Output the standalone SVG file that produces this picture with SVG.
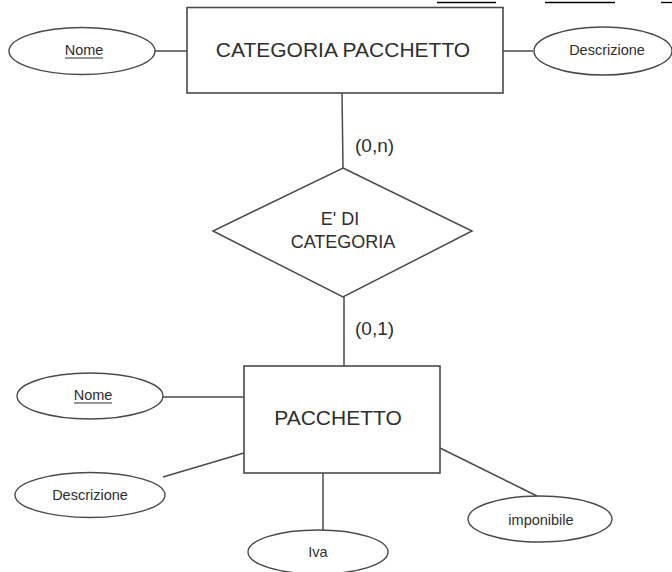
<svg xmlns="http://www.w3.org/2000/svg" width="672" height="572" viewBox="0 0 672 572">
  <style>
    .ent { fill: #ffffff; stroke: #4a4a4a; stroke-width: 1.6; }
    .rel { fill: #ffffff; stroke: #4a4a4a; stroke-width: 1.5; }
    .attr { fill: #ffffff; stroke: #4a4a4a; stroke-width: 1.4; }
    .conn { stroke: #4a4a4a; stroke-width: 1.5; fill: none; }
    .big { font-family: "Liberation Sans", Arial, sans-serif; font-size: 21px; fill: #2e2e2e; text-anchor: middle; }
    .mid { font-family: "Liberation Sans", Arial, sans-serif; font-size: 18px; fill: #2e2e2e; text-anchor: middle; }
    .small { font-family: "Liberation Sans", Arial, sans-serif; font-size: 14.5px; fill: #2e2e2e; text-anchor: middle; }
    .card { font-family: "Liberation Sans", Arial, sans-serif; font-size: 19px; fill: #2e2e2e; }
    .ul { stroke: #2e2e2e; stroke-width: 1.2; }
    .rule { stroke: #000; stroke-width: 1.3; }
  </style>

  <rect width="672" height="572" fill="#ffffff"/>

  <!-- underline strokes along the very top edge of the page -->
  <g id="page-rules">
    <line class="rule" x1="437" y1="2.5" x2="496" y2="2.5"/>
    <line class="rule" x1="545" y1="2.5" x2="615" y2="2.5"/>
    <line class="rule" x1="661" y1="2.5" x2="672" y2="2.5"/>
  </g>

  <!-- connectors -->
  <g id="connectors">
    <line class="conn" x1="155" y1="51" x2="187" y2="51"/>
    <line class="conn" x1="503" y1="51" x2="533" y2="51"/>
    <line class="conn" x1="342" y1="93" x2="343" y2="168"/>
    <line class="conn" x1="344" y1="297" x2="344" y2="366"/>
    <line class="conn" x1="163" y1="397" x2="244" y2="397"/>
    <line class="conn" x1="163" y1="477" x2="244" y2="453"/>
    <line class="conn" x1="323" y1="473" x2="323" y2="530"/>
    <line class="conn" x1="440" y1="448" x2="537" y2="496"/>
    <text class="card" x="355" y="152">(0,n)</text>
    <text class="card" x="355" y="335">(0,1)</text>
  </g>

  <!-- entity: CATEGORIA PACCHETTO -->
  <g id="categoria-pacchetto">
    <rect class="ent" x="187" y="7.5" width="316" height="85.5"/>
    <text class="big" x="343" y="57">CATEGORIA PACCHETTO</text>
  </g>

  <g id="cat-nome">
    <ellipse class="attr" cx="82" cy="51" rx="73" ry="23.5"/>
    <text class="small" x="84" y="55">Nome</text>
    <line class="ul" x1="65" y1="58" x2="103" y2="58"/>
  </g>

  <g id="cat-descrizione">
    <ellipse class="attr" cx="603" cy="51" rx="69" ry="24"/>
    <text class="small" x="607" y="55">Descrizione</text>
  </g>

  <!-- relationship -->
  <g id="e-di-categoria">
    <polygon class="rel" points="343,168 472,231 343,297 213,231"/>
    <text class="mid" x="340" y="225">E' DI</text>
    <text class="mid" x="343" y="248">CATEGORIA</text>
  </g>

  <!-- entity: PACCHETTO -->
  <g id="pacchetto">
    <rect class="ent" x="244" y="366" width="196" height="107"/>
    <text class="big" x="338" y="425">PACCHETTO</text>
  </g>

  <g id="pac-nome">
    <ellipse class="attr" cx="90" cy="396" rx="73" ry="23"/>
    <text class="small" x="93" y="400">Nome</text>
    <line class="ul" x1="74" y1="403" x2="112" y2="403"/>
  </g>

  <g id="pac-descrizione">
    <ellipse class="attr" cx="90" cy="495" rx="75" ry="22.5"/>
    <text class="small" x="90" y="500">Descrizione</text>
  </g>

  <g id="pac-iva">
    <ellipse class="attr" cx="318" cy="552" rx="70" ry="22"/>
    <text class="small" x="318" y="557">Iva</text>
  </g>

  <g id="pac-imponibile">
    <ellipse class="attr" cx="540" cy="519" rx="72" ry="23"/>
    <text class="small" x="541" y="525">imponibile</text>
  </g>
</svg>
